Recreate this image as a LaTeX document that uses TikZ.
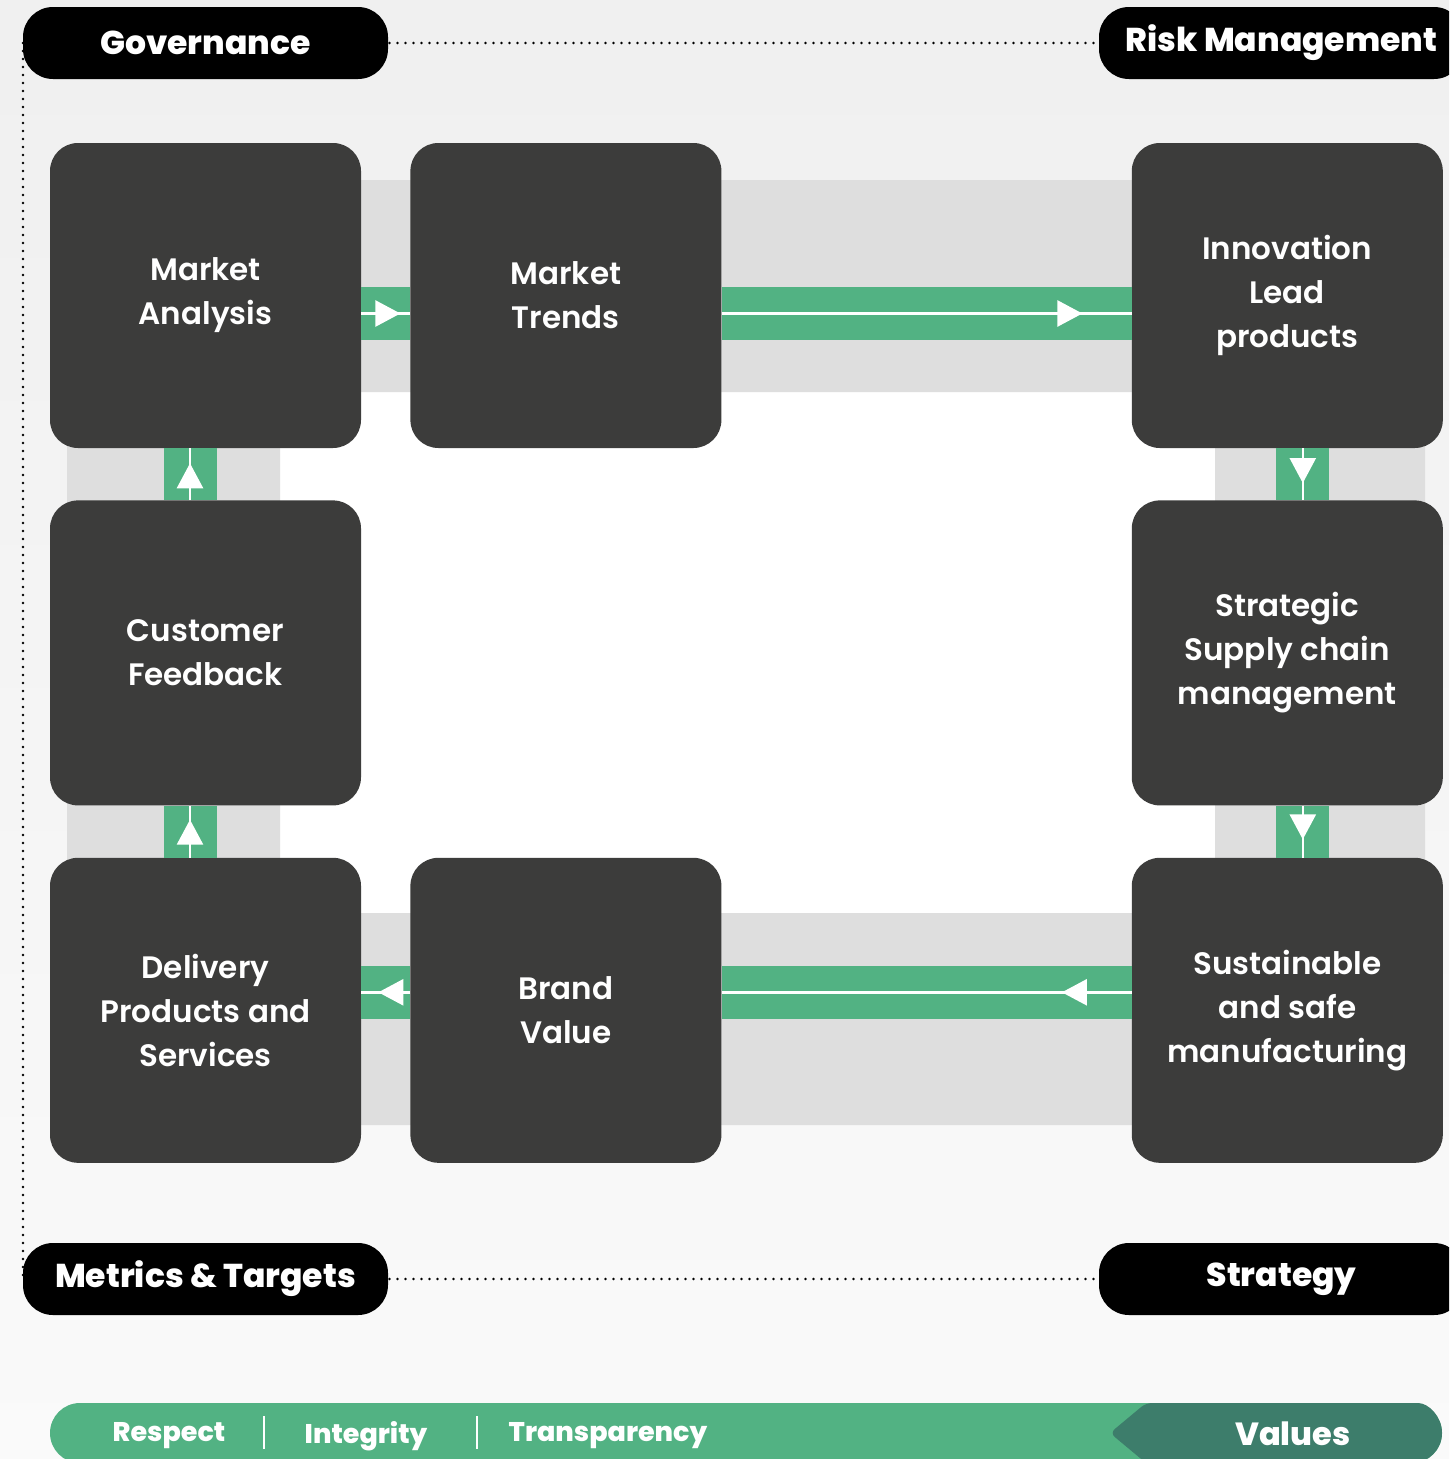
\documentclass[tikz,border=0pt]{standalone}
\usepackage{fontspec}
\setmainfont{Poppins}
\newfontfamily\boxfont{Poppins SemiBold}
\newfontfamily\pillfont{Poppins ExtraBold}
\usetikzlibrary{positioning,arrows.meta,decorations.markings}

\definecolor{boxgray}{HTML}{3C3C3B}
\definecolor{ringgray}{HTML}{DEDEDE}
\definecolor{flowgreen}{HTML}{52B283}
\definecolor{valgreen}{HTML}{3D7D6B}

\tikzset{
  box/.style={rectangle, rounded corners=28pt, fill=boxgray, text=white,
    minimum width=311pt, minimum height=305pt, inner sep=0pt, align=center,
    font=\boxfont\fontsize{31}{44}\selectfont},
  pill/.style={rectangle, rounded corners=30pt, fill=black, text=white,
    minimum width=365pt, minimum height=72pt, inner sep=0pt,
    font=\pillfont\fontsize{33}{36}\selectfont},
  greenbar/.style={draw=flowgreen, line width=53pt},
  flowline/.style={draw=white, line width=2.5pt, postaction={decorate},
    decoration={markings, mark=at position #1 with
      {\arrow{Triangle[width=26pt,length=25pt]}}}},
  dotline/.style={draw=black, line width=2.6pt, line cap=round,
    dash pattern=on 0pt off 8pt},
  value/.style={text=white, font=\pillfont\fontsize{27}{30}\selectfont}
}

\begin{document}
\begin{tikzpicture}[x=1pt, y=-1pt]
    \useasboundingbox (0,0) rectangle (1449,1459);
    \clip (0,0) rectangle (1449,1459);
    \shade[top color=black!6, bottom color=black!2] (0,0) rectangle (1449,1459);

    % grey ring behind the boxes, white inside
    \fill[white] (280,392) rectangle (1215,913);
    \fill[ringgray, even odd rule] (67,180) rectangle (1425,1125)
        (280,392) rectangle (1215,913);

    % boxes
    \node(ma)   [box] at (205.5,295.5)    {Market\\Analysis};
    \node(mt)   [box, right=49pt of ma]   {Market\\Trends};
    \node(inn)  [box, right=410pt of mt]  {Innovation\\Lead\\products};
    \node(cf)   [box, below=52pt of ma]   {Customer\\Feedback};
    \node(scm)  [box, below=52pt of inn]  {Strategic\\Supply chain\\management};
    \node(dps)  [box, below=52pt of cf]   {Delivery\\Products and\\Services};
    \node(bv)   [box, right=49pt of dps]  {Brand\\Value};
    \node(sm)   [box, below=52pt of scm]  {Sustainable\\and safe\\manufacturing};

    % top row
    \draw [greenbar] ([yshift=-18pt]ma.east) -- ([yshift=-18pt]mt.west);
    \draw [flowline=0.8] ([yshift=-18pt]ma.east) -- ([yshift=-18pt]mt.west);
    \draw [greenbar] ([yshift=-18pt]mt.east) -- ([yshift=-18pt]inn.west);
    \draw [flowline=0.88] ([yshift=-18pt]mt.east) -- ([yshift=-18pt]inn.west);

    % right column
    \draw [greenbar] ([xshift=15.5pt]inn.south) -- ([xshift=15.5pt]scm.north);
    \draw [flowline=0.67] ([xshift=15.5pt]inn.south) -- ([xshift=15.5pt]scm.north);
    \draw [greenbar] ([xshift=15.5pt]scm.south) -- ([xshift=15.5pt]sm.north);
    \draw [flowline=0.65] ([xshift=15.5pt]scm.south) -- ([xshift=15.5pt]sm.north);

    % bottom row
    \draw [greenbar] ([yshift=18pt]sm.west) -- ([yshift=18pt]bv.east);
    \draw [flowline=0.17] ([yshift=18pt]sm.west) -- ([yshift=18pt]bv.east);
    \draw [greenbar] ([yshift=18pt]bv.west) -- ([yshift=18pt]dps.east);
    \draw [flowline=0.65] ([yshift=18pt]bv.west) -- ([yshift=18pt]dps.east);

    % left column
    \draw [greenbar] ([xshift=-15.5pt]dps.north) -- ([xshift=-15.5pt]cf.south);
    \draw [flowline=0.73] ([xshift=-15.5pt]dps.north) -- ([xshift=-15.5pt]cf.south);
    \draw [greenbar] ([xshift=-15.5pt]cf.north) -- ([xshift=-15.5pt]ma.south);
    \draw [flowline=0.71] ([xshift=-15.5pt]cf.north) -- ([xshift=-15.5pt]ma.south);

    % corner labels
    \coordinate(govc)  at (205.5,43);
    \coordinate(metc)  at (205.5,1279);
    \draw [dotline] (govc) -- (1281.5,43);
    \draw [dotline] (metc) -- (1281.5,1279);
    \draw [dotline] ([xshift=-182.5pt]govc) -- ([xshift=-182.5pt]metc);
    \node(gov)  [pill] at (govc)          {Governance};
    \node(risk) [pill] at (1281.5,43)     {Risk Management};
    \node(met)  [pill] at (metc)          {Metrics \& Targets};
    \node(str)  [pill] at (1281.5,1279)   {Strategy};

    % values bar
    \fill[flowgreen, rounded corners=30pt] (50,1403) rectangle (1442,1463);
    \fill[valgreen, rounded corners=6pt] (1110,1433) -- (1146,1403)
        -- (1412,1403) [sharp corners] arc[start angle=90, end angle=-90, radius=30pt]
        [rounded corners=6pt] -- (1146,1463) -- cycle;
    \node(resp)  [value] at (169,1436)   {Respect};
    \node(integ) [value] at (366,1436)   {Integrity};
    \node(trans) [value] at (608,1436)   {Transparency};
    \node(val)   [value, font=\pillfont\fontsize{32}{36}\selectfont] at (1293,1434) {Values};
    \draw [white, line width=2.5pt] (264,1416) -- (264,1449);
    \draw [white, line width=2.5pt] (477,1416) -- (477,1449);
\end{tikzpicture}
\end{document}
